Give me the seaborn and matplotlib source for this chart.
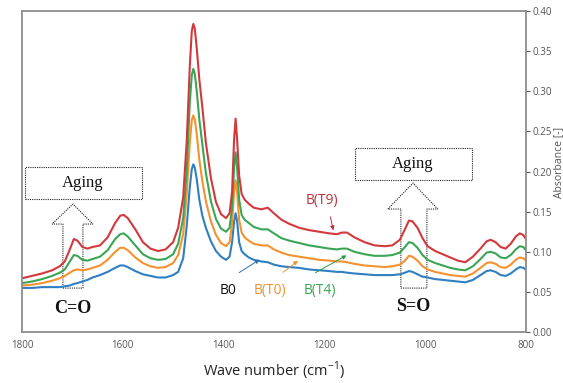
import matplotlib
matplotlib.use("Agg")
import matplotlib.pyplot as plt
import seaborn as sns
import pandas as pd
from matplotlib.patches import Polygon, Rectangle

wavenumber = [1800, 1780, 1760, 1740, 1725, 1715, 1705, 1697, 1690, 1680, 1670, 1660, 1645, 1630,
              1615, 1605, 1598, 1590, 1575, 1560, 1545, 1530, 1515, 1500, 1490, 1480, 1473, 1467,
              1463, 1460, 1457, 1453, 1448, 1442, 1435, 1425, 1415, 1405, 1395, 1388, 1383, 1379,
              1376, 1373, 1369, 1364, 1358, 1350, 1340, 1325, 1312, 1300, 1285, 1270, 1250, 1230,
              1210, 1190, 1175, 1165, 1155, 1140, 1120, 1100, 1080, 1065, 1050, 1040, 1032, 1025,
              1015, 1005, 995, 980, 965, 950, 935, 920, 905, 890, 878, 870, 860, 850, 840, 830,
              820, 812, 805, 800]

b0 = [0.055, 0.055, 0.056, 0.056, 0.056, 0.057, 0.058, 0.060, 0.061, 0.063, 0.065, 0.068, 0.071, 0.075,
      0.080, 0.083, 0.083, 0.081, 0.076, 0.072, 0.070, 0.068, 0.068, 0.071, 0.075, 0.092, 0.132, 0.180,
      0.203, 0.209, 0.205, 0.190, 0.165, 0.145, 0.130, 0.113, 0.101, 0.094, 0.090, 0.094, 0.112, 0.138,
      0.148, 0.138, 0.112, 0.101, 0.097, 0.093, 0.090, 0.088, 0.087, 0.084, 0.082, 0.081, 0.080, 0.078,
      0.077, 0.076, 0.075, 0.075, 0.074, 0.073, 0.072, 0.071, 0.071, 0.071, 0.072, 0.074, 0.076, 0.075,
      0.072, 0.069, 0.068, 0.066, 0.065, 0.064, 0.063, 0.062, 0.065, 0.071, 0.076, 0.077, 0.075, 0.071,
      0.070, 0.073, 0.078, 0.081, 0.080, 0.078]

bt0 = [0.058, 0.059, 0.061, 0.064, 0.067, 0.070, 0.074, 0.077, 0.078, 0.077, 0.078, 0.080, 0.083, 0.090,
       0.100, 0.105, 0.105, 0.102, 0.093, 0.086, 0.082, 0.080, 0.081, 0.086, 0.096, 0.122, 0.172, 0.235,
       0.264, 0.270, 0.265, 0.246, 0.215, 0.188, 0.163, 0.138, 0.121, 0.111, 0.107, 0.112, 0.135, 0.175,
       0.189, 0.175, 0.140, 0.124, 0.118, 0.114, 0.110, 0.108, 0.108, 0.103, 0.099, 0.096, 0.094, 0.092,
       0.090, 0.089, 0.088, 0.088, 0.087, 0.085, 0.083, 0.082, 0.081, 0.082, 0.084, 0.089, 0.095, 0.094,
       0.089, 0.082, 0.078, 0.075, 0.073, 0.071, 0.070, 0.069, 0.073, 0.080, 0.086, 0.087, 0.085, 0.081,
       0.080, 0.084, 0.090, 0.093, 0.092, 0.089]

bt4 = [0.061, 0.063, 0.066, 0.070, 0.074, 0.078, 0.088, 0.096, 0.095, 0.090, 0.089, 0.091, 0.094, 0.102,
       0.116, 0.122, 0.123, 0.119, 0.108, 0.097, 0.092, 0.090, 0.091, 0.097, 0.110, 0.142, 0.202, 0.285,
       0.320, 0.328, 0.322, 0.300, 0.265, 0.234, 0.198, 0.163, 0.141, 0.129, 0.125, 0.130, 0.155, 0.205,
       0.224, 0.205, 0.165, 0.146, 0.140, 0.136, 0.131, 0.128, 0.128, 0.123, 0.117, 0.114, 0.111, 0.108,
       0.106, 0.104, 0.103, 0.104, 0.104, 0.100, 0.097, 0.095, 0.095, 0.096, 0.099, 0.106, 0.112, 0.111,
       0.105, 0.096, 0.090, 0.086, 0.083, 0.080, 0.078, 0.077, 0.082, 0.091, 0.099, 0.100, 0.098, 0.093,
       0.092, 0.096, 0.103, 0.107, 0.106, 0.102]

bt9 = [0.067, 0.070, 0.073, 0.077, 0.082, 0.088, 0.103, 0.116, 0.114, 0.106, 0.104, 0.106, 0.108, 0.118,
       0.136, 0.145, 0.146, 0.142, 0.128, 0.112, 0.104, 0.101, 0.103, 0.112, 0.130, 0.168, 0.238, 0.330,
       0.375, 0.384, 0.378, 0.353, 0.315, 0.280, 0.236, 0.192, 0.162, 0.147, 0.142, 0.148, 0.175, 0.240,
       0.266, 0.240, 0.195, 0.172, 0.165, 0.160, 0.155, 0.153, 0.155, 0.148, 0.140, 0.135, 0.130, 0.127,
       0.125, 0.123, 0.122, 0.124, 0.124, 0.118, 0.112, 0.108, 0.107, 0.108, 0.115, 0.128, 0.139, 0.138,
       0.130, 0.117, 0.107, 0.101, 0.097, 0.093, 0.089, 0.087, 0.094, 0.104, 0.113, 0.115, 0.112, 0.106,
       0.104, 0.110, 0.119, 0.123, 0.121, 0.116]

series_names = ["B0", "B(T0)", "B(T4)", "B(T9)"]
series_colors = ["#2f7fc1", "#f5922f", "#3aa655", "#d3393c"]

x_ticks = [1800, 1600, 1400, 1200, 1000, 800]
y_ticks = [0.00, 0.05, 0.10, 0.15, 0.20, 0.25, 0.30, 0.35, 0.40]

frames = []
for name, vals in zip(series_names, [b0, bt0, bt4, bt9]):
    frames.append(pd.DataFrame({"wn": wavenumber, "abs": vals, "sample": name}))
df = pd.concat(frames, ignore_index=True)

sns.set_style("white")
plt.rcParams["font.family"] = ["Open Sans", "DejaVu Sans"]

fig = plt.figure(figsize=(5.63, 3.83), dpi=100)
ax = fig.add_axes([0.039, 0.133, 0.895, 0.838])

sns.lineplot(data=df, x="wn", y="abs", hue="sample", palette=dict(zip(series_names, series_colors)),
             estimator=None, sort=False, linewidth=1.5, legend=False, ax=ax)

ax.set_xlim(1800, 800)
ax.set_ylim(0, 0.40)
ax.set_xticks(x_ticks)
ax.set_xticklabels([str(t) for t in x_ticks])
ax.set_yticks(y_ticks)
ax.set_yticklabels([f"{t:.2f}" for t in y_ticks])
ax.yaxis.tick_right()
ax.yaxis.set_label_position("right")
ax.tick_params(axis="both", labelsize=7, colors="#555555", length=3, width=0.8, direction="out")
ax.tick_params(axis="x", pad=3)
ax.tick_params(axis="y", pad=2)
for s in ax.spines.values():
    s.set_color("#8c8c8c")
    s.set_linewidth(1.3)
ax.set_xlabel("Wave number (cm$^{\\mathregular{-1}}$)", fontsize=10.5, color="#222222", labelpad=6)
ax.set_ylabel("Absorbance [-]", fontsize=7.5, color="#555555")
ax.yaxis.set_label_coords(1.054, 0.53)

# dotted "Aging" boxes and arrows
dot = dict(fill=False, edgecolor="#222222", linewidth=0.8, linestyle=(0, (1, 1)))
ax.add_patch(Rectangle((1794, 0.1657), 1562 - 1794, 0.2056 - 0.1657, **dot))
ax.add_patch(Rectangle((1139, 0.1894), 907 - 1139, 0.2293 - 0.1894, **dot))
ax.add_patch(Polygon([(1718.7, 0.0548), (1679, 0.0548), (1679, 0.1346), (1659, 0.1346),
                      (1698.8, 0.1595), (1740.5, 0.1346), (1718.7, 0.1346)], closed=True, **dot))
ax.add_patch(Polygon([(1048, 0.0548), (996.4, 0.0548), (996.4, 0.1533), (975, 0.1533),
                      (1024, 0.1857), (1074, 0.1533), (1048, 0.1533)], closed=True, **dot))

serif = ["Liberation Serif", "DejaVu Serif"]
ax.text(1679, 0.1857, "Aging", family=serif, fontsize=12, ha="center", va="center", color="#111111")
ax.text(1024, 0.2093, "Aging", family=serif, fontsize=12, ha="center", va="center", color="#111111")
ax.text(1698.8, 0.0299, "C=O", family=serif, fontsize=13, fontweight="bold", ha="center", va="center",
        color="#111111")
ax.text(1024, 0.0324, "S=O", family=serif, fontsize=13, fontweight="bold", ha="center", va="center",
        color="#111111")

# labels with arrows
ax.text(1205, 0.1645, "B(T9)", fontsize=10, color="#b83236", ha="center", va="center")
ax.annotate("", xy=(1181, 0.1234), xytext=(1189, 0.147),
            arrowprops=dict(arrowstyle="-|>", color="#b83236", lw=0.7, mutation_scale=6))
ax.text(1391, 0.0523, "B0", fontsize=10, color="#111111", ha="center", va="center")
ax.text(1308, 0.0523, "B(T0)", fontsize=10, color="#f0902f", ha="center", va="center")
ax.text(1209, 0.0523, "B(T4)", fontsize=10, color="#3aa655", ha="center", va="center")
ax.annotate("", xy=(1323.8, 0.0922), xytext=(1373.4, 0.0723),
            arrowprops=dict(arrowstyle="-|>", color="#2f6fb0", lw=0.7, mutation_scale=6))
ax.annotate("", xy=(1248, 0.091), xytext=(1286, 0.0723),
            arrowprops=dict(arrowstyle="-|>", color="#f0902f", lw=0.7, mutation_scale=6))
ax.annotate("", xy=(1151, 0.0972), xytext=(1222.6, 0.0723),
            arrowprops=dict(arrowstyle="-|>", color="#2a9a4a", lw=0.7, mutation_scale=6))

fig.savefig("out.png", dpi=100)
